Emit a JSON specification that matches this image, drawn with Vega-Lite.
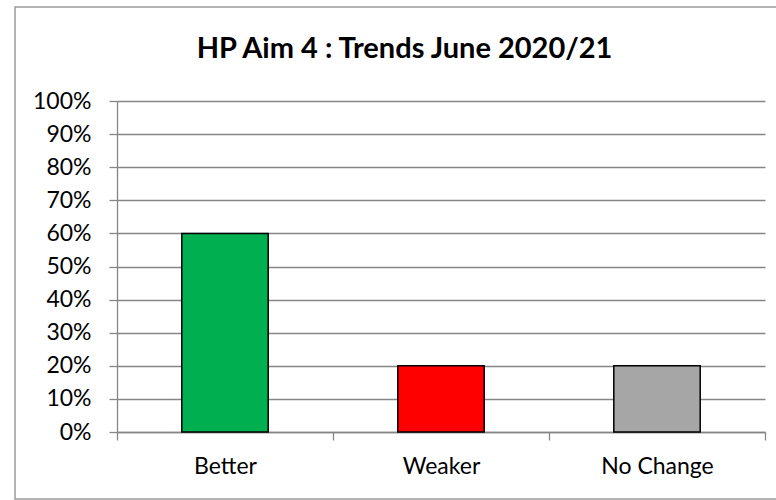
{
  "$schema": "https://vega.github.io/schema/vega-lite/v6.json",
  "width": 763,
  "height": 492,
  "autosize": {"type": "none"},
  "padding": {"left": 15, "top": 7, "right": -2, "bottom": 1},
  "background": "white",
  "title": {
    "text": "HP Aim 4 : Trends June 2020/21",
    "font": "Lato",
    "fontSize": 29,
    "fontWeight": "bold",
    "color": "#000000",
    "anchor": "middle",
    "baseline": "alphabetic",
    "offset": -29,
    "dy": 51,
    "dx": 8
  },
  "data": {
    "values": [
      {"trend": "Better", "share": 0.6},
      {"trend": "Weaker", "share": 0.2},
      {"trend": "No Change", "share": 0.2}
    ]
  },
  "mark": {"type": "bar", "width": {"band": 0.4}, "stroke": "#000000", "strokeWidth": 1.5},
  "encoding": {
    "x": {
      "field": "trend",
      "type": "nominal",
      "sort": null,
      "scale": {"range": [102, 750], "paddingInner": 0, "paddingOuter": 0},
      "axis": {
        "title": null,
        "labelAngle": 0,
        "offset": -67,
        "tickBand": "extent",
        "tickSize": 8,
        "labelPadding": 15,
        "domainColor": "#868686",
        "domainWidth": 1.3,
        "tickColor": "#868686",
        "tickWidth": 1.3,
        "grid": false
      }
    },
    "y": {
      "field": "share",
      "type": "quantitative",
      "scale": {"domain": [0, 1], "range": [425, 94], "nice": false, "zero": true},
      "axis": {
        "title": null,
        "values": [0, 0.1, 0.2, 0.3, 0.4, 0.5, 0.6, 0.7, 0.8, 0.9, 1],
        "format": ".0%",
        "offset": -102,
        "tickSize": 8,
        "labelPadding": 18,
        "domainColor": "#868686",
        "domainWidth": 1.3,
        "tickColor": "#868686",
        "tickWidth": 1.3,
        "grid": true,
        "gridColor": "#868686",
        "gridWidth": 1.3
      }
    },
    "color": {
      "field": "trend",
      "type": "nominal",
      "scale": {
        "domain": ["Better", "Weaker", "No Change"],
        "range": ["#00B050", "#FF0000", "#A6A6A6"]
      },
      "legend": null
    }
  },
  "config": {
    "view": {"stroke": "#9a9a9a", "strokeWidth": 1.5},
    "axis": {"labelFont": "Lato", "labelFontSize": 23, "labelColor": "#000000"}
  }
}
